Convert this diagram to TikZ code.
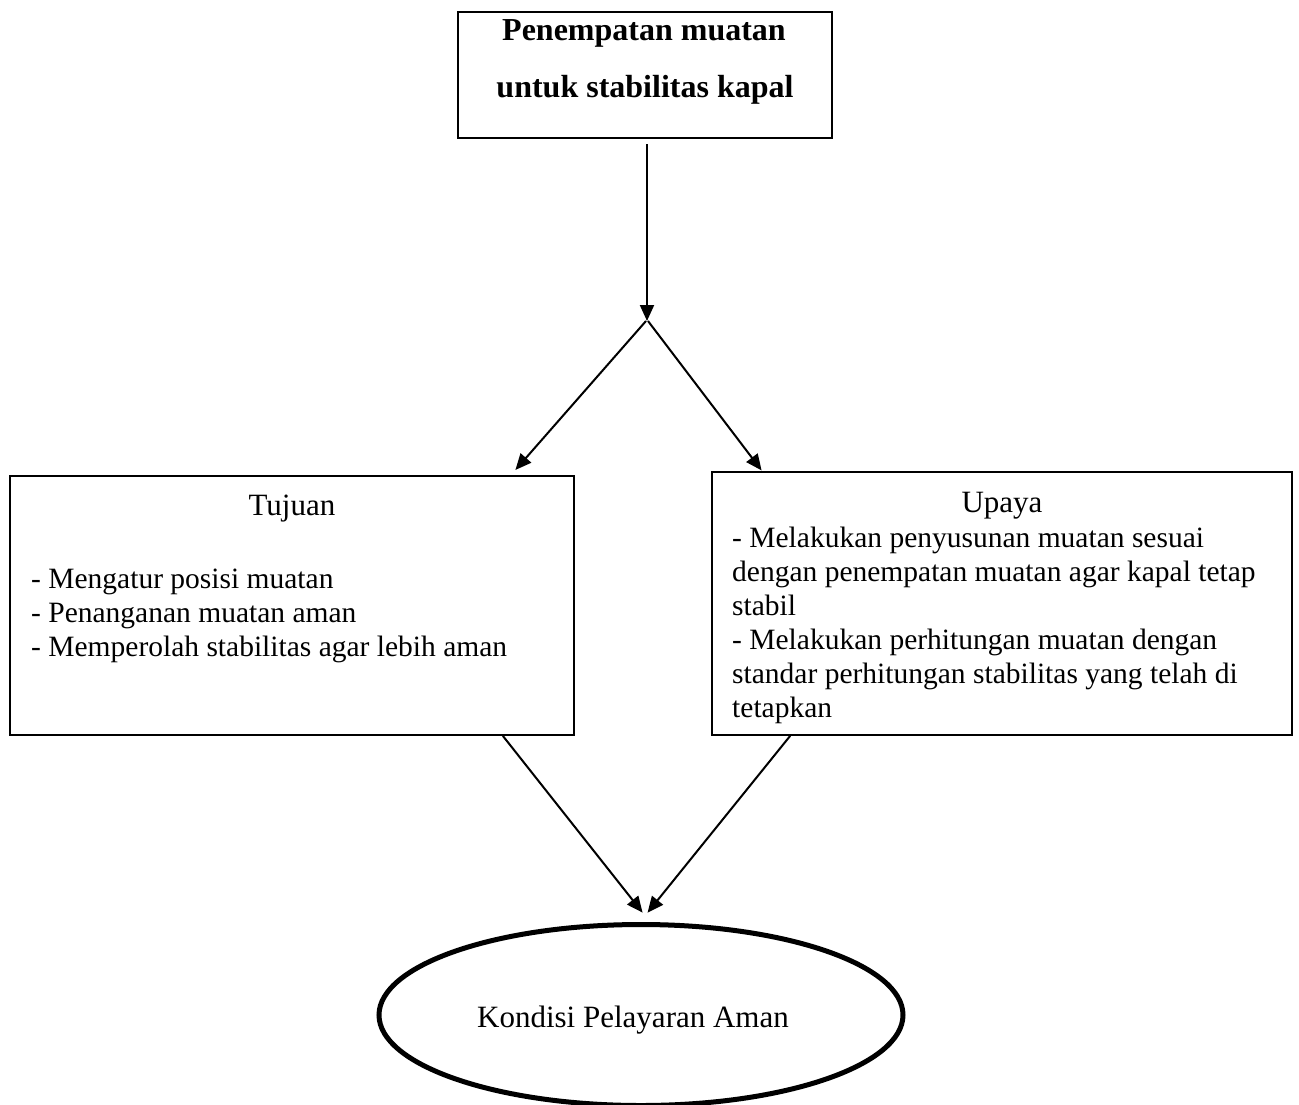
\documentclass[tikz,border=0pt]{standalone}
\usepackage{fontspec}
\setmainfont{Liberation Serif}
\usetikzlibrary{arrows.meta,shapes.geometric}
\begin{document}
\begin{tikzpicture}[x=1pt,y=-1pt,
  box/.style={draw,line width=1.6pt,inner sep=0pt},
  body/.style={anchor=base west,inner sep=0pt,font=\fontsize{29.5}{34}\selectfont},
  ttl/.style={anchor=base,inner sep=0pt,font=\fontsize{31}{34}\selectfont},
  btl/.style={anchor=base,inner sep=0pt,font=\fontsize{32}{36}\selectfont\bfseries},
  arr/.style={line width=2pt,-{Triangle[length=16pt,width=14pt]}}]
\useasboundingbox[fill=white] (0,0) rectangle (1299,1104);

% boxes
\node[box,line width=2.2pt,minimum width=374pt,minimum height=126pt] (top) at (645,75) {};
\node[box,minimum width=564pt,minimum height=259pt] (left) at (292,605.5) {};
\node[box,minimum width=580pt,minimum height=263pt] (right) at (1002,603.5) {};
\node[draw,ellipse,line width=5pt,inner sep=0pt,minimum width=524pt,minimum height=181pt] (goal) at (641,1015) {};

% texts
\node[btl] (t1) at (644,40) {Penempatan muatan};
\node[btl] (t2) at (645,97) {untuk stabilitas kapal};

\node[ttl] (tuj) at (292,515) {Tujuan};
\node[body] (l1) at (31,588) {- Mengatur posisi muatan};
\node[body] (l2) at (31,622.5) {- Penanganan muatan aman};
\node[body] (l3) at (31,656.5) {- Memperolah stabilitas agar lebih aman};

\node[ttl] (upa) at (1002,512) {Upaya};
\node[body] (r1) at (732,547) {- Melakukan penyusunan muatan sesuai};
\node[body] (r2) at (732,581.5) {dengan penempatan muatan agar kapal tetap};
\node[body] (r3) at (732,615.5) {stabil};
\node[body] (r4) at (732,649.5) {- Melakukan perhitungan muatan dengan};
\node[body] (r5) at (732,683.5) {standar perhitungan stabilitas yang telah di};
\node[body] (r6) at (732,717.5) {tetapkan};

\node[ttl] (kon) at (633,1027) {Kondisi Pelayaran Aman};

% connectors
\coordinate (split) at (647,321);
\draw[arr,shorten <=5pt] (top.south -| split) -- (split);
\draw[arr,shorten >=7pt] ([xshift=-1pt]split) -- ([xshift=-64pt]left.north east);
\draw[arr,shorten >=1pt] ([xshift=1pt]split) -- ([xshift=51pt]right.north west);
\draw[arr,shorten >=12pt] ([xshift=-72pt]left.south east) -- ([xshift=9pt]goal.north);
\draw[arr,shorten >=12pt] ([xshift=79pt]right.south west) -- ([xshift=-1pt]goal.north);
\end{tikzpicture}
\end{document}
